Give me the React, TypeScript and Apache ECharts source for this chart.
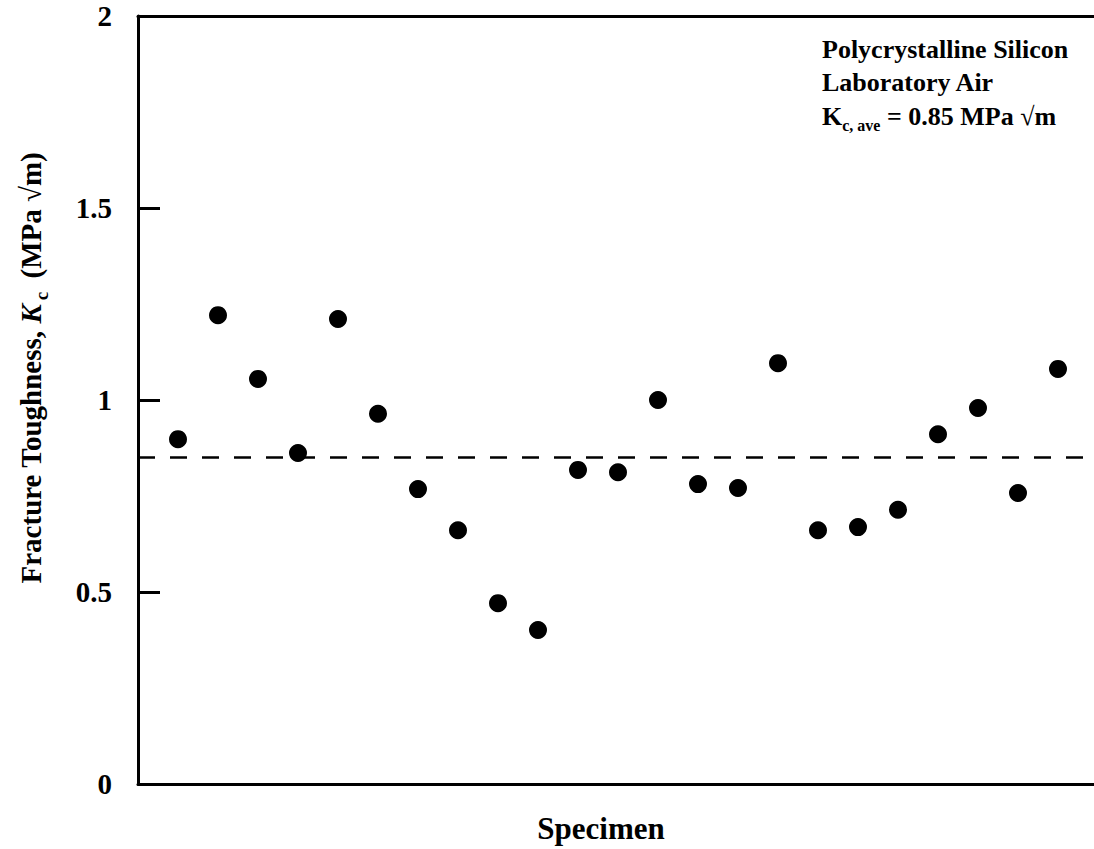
import React, { useEffect, useRef } from "react";
import * as echarts from "echarts";

const specimens = [1, 2, 3, 4, 5, 6, 7, 8, 9, 10, 11, 12, 13, 14, 15, 16, 17, 18, 19, 20, 21, 22, 23];
const toughness = [0.898, 1.221, 1.055, 0.862, 1.211, 0.964, 0.768, 0.661, 0.471, 0.401, 0.818, 0.812, 1.0, 0.781, 0.771, 1.096, 0.661, 0.669, 0.714, 0.911, 0.979, 0.758, 1.081];
const averageKc = 0.85;
const yTicks = [0, 0.5, 1, 1.5, 2];
const annotationLines = ["Polycrystalline Silicon", "Laboratory Air"];

const FONT = "'Liberation Serif', 'Times New Roman', serif";

export default function App() {
  const ref = useRef<HTMLDivElement>(null);
  useEffect(() => {
    if (!ref.current) return;
    const chart = echarts.init(ref.current, null, { renderer: "svg" });
    chart.setOption({
      animation: false,
      backgroundColor: "#ffffff",
      grid: {
        left: 138,
        top: 16,
        width: 960,
        height: 768,
        show: false,
        containLabel: false,
        outerBoundsMode: "none",
      },
      xAxis: [
        {
          type: "value",
          min: 0,
          max: 24,
          position: "bottom",
          axisLine: { show: true, onZero: false, lineStyle: { color: "#000", width: 3 } },
          axisTick: { show: false },
          axisLabel: { show: false },
          splitLine: { show: false },
        },
        {
          type: "value",
          min: 0,
          max: 24,
          position: "top",
          axisLine: { show: true, onZero: false, lineStyle: { color: "#000", width: 3 } },
          axisTick: { show: false },
          axisLabel: { show: false },
          splitLine: { show: false },
        },
      ],
      yAxis: {
        type: "value",
        min: 0,
        max: 2,
        interval: 0.5,
        axisLine: { show: true, onZero: false, lineStyle: { color: "#000", width: 3 } },
        axisTick: { show: true, inside: true, length: 22, lineStyle: { color: "#000", width: 3 } },
        axisLabel: {
          margin: 26,
          color: "#000",
          fontFamily: FONT,
          fontWeight: "bold",
          fontSize: 29,
          formatter: (v: number) => (yTicks.includes(v) ? String(v) : ""),
        },
        splitLine: { show: false },
      },
      series: [
        {
          type: "scatter",
          data: specimens.map((s, i) => [s, toughness[i]]),
          symbol: "circle",
          symbolSize: 18,
          itemStyle: { color: "#000", opacity: 1 },
          markLine: {
            silent: true,
            symbol: "none",
            label: { show: false },
            lineStyle: { color: "#000", width: 2.5, type: [17, 15], opacity: 1 },
            data: [{ yAxis: averageKc }],
          },
        },
      ],
      graphic: [
        ...annotationLines.map((line, i) => ({
          type: "text",
          x: 822,
          y: 49 + i * 33,
          style: {
            text: line,
            verticalAlign: "middle",
            fontFamily: FONT,
            fontWeight: "bold",
            fontSize: 26,
            fill: "#000",
          },
        })),
        {
          type: "text",
          x: 822,
          y: 116,
          style: {
            text: "{a|K}{s|c, ave}{a| = " + averageKc.toFixed(2) + " MPa √m}",
            verticalAlign: "middle",
            rich: {
              a: { fontFamily: FONT, fontWeight: "bold", fontSize: 26, lineHeight: 34, fill: "#000", verticalAlign: "middle" },
              s: { fontFamily: FONT, fontWeight: "bold", fontSize: 16, lineHeight: 34, fill: "#000", verticalAlign: "bottom" },
            },
          },
        },
        {
          type: "text",
          x: 31,
          y: 368,
          rotation: Math.PI / 2,
          style: {
            text: "{a|Fracture Toughness, }{k|K}{s|c}{a| (MPa √m)}",
            align: "center",
            verticalAlign: "middle",
            rich: {
              a: { fontFamily: FONT, fontWeight: "bold", fontSize: 29, lineHeight: 40, fill: "#000", verticalAlign: "middle" },
              k: { fontFamily: FONT, fontWeight: "bold", fontStyle: "italic", fontSize: 29, lineHeight: 40, fill: "#000", verticalAlign: "middle" },
              s: { fontFamily: FONT, fontWeight: "bold", fontSize: 19, lineHeight: 40, fill: "#000", verticalAlign: "bottom", padding: [0, 6, 0, 4] },
            },
          },
        },
        {
          type: "text",
          x: 601,
          y: 828,
          style: {
            text: "Specimen",
            align: "center",
            verticalAlign: "middle",
            fontFamily: FONT,
            fontWeight: "bold",
            fontSize: 31,
            fill: "#000",
          },
        },
      ],
    });
    return () => chart.dispose();
  }, []);
  return (
    <div
      ref={ref}
      style={{ position: "fixed", left: 0, top: 0, width: 1094, height: 849, background: "#fff" }}
    />
  );
}
